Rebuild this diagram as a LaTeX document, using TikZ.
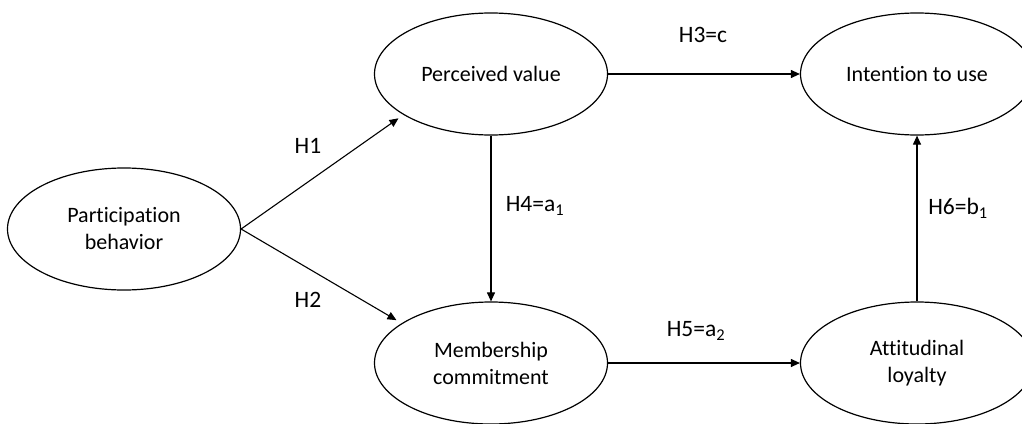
\documentclass[tikz,border=0pt]{standalone}
\usepackage{fontspec}
\setmainfont{Carlito}[Ligatures=NoCommon]
\usetikzlibrary{shapes.geometric,arrows.meta}
\begin{document}
\begin{tikzpicture}[x=1pt,y=-1pt,
  construct/.style={draw,line width=1.2pt,ellipse,minimum width=233pt,minimum height=122pt,inner sep=0pt,align=center,font=\fontsize{22}{27}\selectfont},
  path/.style={draw,line width=1.1pt,-{Triangle[length=9pt,width=8pt]}},
  lbl/.style={font=\fontsize{23.5}{28}\selectfont}]
\useasboundingbox (0,0) rectangle (1022,423);
\clip (0,0) rectangle (1022,423);
\node[construct] (pb) at (124,229) {Participation\\behavior};
\node[construct] (pv) at (491,74) {Perceived value};
\node[construct] (iu) at (917,74) {Intention to use};
\node[construct] (mc) at (491,363) {Membership\\commitment};
\node[construct] (al) at (917,363) {Attitudinal\\loyalty};
\draw[path,shorten >=6pt] (pb.east) -- (pv.205);
\draw[path,shorten >=6pt] (pb.east) -- (mc.156);
\draw[path] (pv.east) -- (iu.west);
\draw[path] (pv.south) -- (mc.north);
\draw[path] (mc.east) -- (al.west);
\draw[path] (al.north) -- (iu.south);
\node[lbl] (h1) at (308,146) {H1};
\node[lbl] (h2) at (308,300) {H2};
\node[lbl] (h3) at (703,35) {H3=c};
\node[lbl] (h4) at (535,206) {H4=a\textsubscript{1}};
\node[lbl] (h5) at (696,331) {H5=a\textsubscript{2}};
\node[lbl] (h6) at (958,208) {H6=b\textsubscript{1}};
\end{tikzpicture}
\end{document}
